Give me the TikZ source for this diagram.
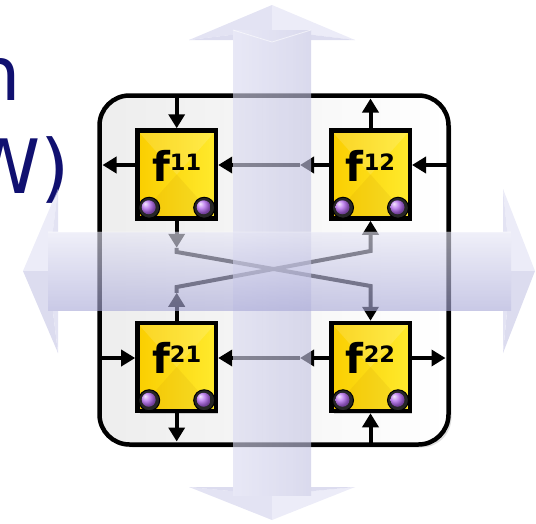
\documentclass[tikz,border=0pt]{standalone}
\usepackage{fontspec}
\setmainfont{DejaVu Sans}
\usetikzlibrary{arrows.meta,shadows}

\definecolor{navytext}{RGB}{16,16,112}
\definecolor{goldL}{RGB}{250,206,0}
\definecolor{goldR}{RGB}{255,234,45}
\definecolor{plum}{RGB}{175,100,235}
\definecolor{vshL}{RGB}{218,218,241}
\definecolor{vshM}{RGB}{168,168,215}
\definecolor{vshR}{RGB}{195,195,226}
\definecolor{hshT}{RGB}{230,230,245}
\definecolor{hshB}{RGB}{168,168,215}
\definecolor{headA}{RGB}{210,210,236}
\definecolor{headB}{RGB}{224,224,243}
\definecolor{headC}{RGB}{198,198,229}

\tikzset{
  fbox/.style={draw=black, line width=4.5pt, minimum width=78.5pt, minimum height=88pt,
    inner sep=0pt, left color=goldL, right color=goldR,
    drop shadow={opacity=0.35, shadow xshift=2.5pt, shadow yshift=-2.5pt},
    path picture={
      \fill[white, opacity=0.14] (path picture bounding box.north west) --
        (path picture bounding box.north east) -- (path picture bounding box.center) -- cycle;
      \fill[orange!60!black, opacity=0.07] (path picture bounding box.south west) --
        (path picture bounding box.south east) -- (path picture bounding box.center) -- cycle;
    }},
  flabel/.style={inner sep=0pt, anchor=base, font=\bfseries\fontsize{41}{41}\selectfont},
  knob/.style={circle, minimum size=21pt, inner sep=0pt, fill=black!85, draw=black, line width=1pt,
    path picture={\shade[ball color=plum] ([xshift=-0.5pt,yshift=0.5pt]path picture bounding box.center) circle (7pt);}},
  link/.style={line width=4pt, -{Triangle[length=14pt,width=16pt]}},
  bigtext/.style={inner sep=0pt, text=navytext, font=\fontsize{75}{75}\selectfont},
}

\newcommand{\lbl}[1]{f\raisebox{11pt}{\fontsize{22.5}{22.5}\selectfont #1}}

\begin{document}
\begin{tikzpicture}[x=1pt,y=-1pt]
\useasboundingbox (0,0) rectangle (536,523);
\clip (0,0) rectangle (536,523);

% partly visible title text
\node[bigtext, anchor=base east] (ttl1) at (21,100) {n};
\node[bigtext, anchor=base east] (ttl2) at (70,193) {W)};

% frame around the four cells
\node[draw=black, line width=4.5pt, rounded corners=30pt, minimum width=349pt, minimum height=349pt,
      inner sep=0pt, left color=black!7, right color=white,
      drop shadow={opacity=0.25, shadow xshift=3pt, shadow yshift=-3pt}] (frame) at (274,270) {};

% cells
\node[fbox] (f11) at (176.7,174.5) {};
\node[fbox] (f12) at (370.5,174.5) {};
\node[fbox] (f21) at (176.7,367) {};
\node[fbox] (f22) at (370.5,367) {};

\node[flabel] (l11) at (176.7,181) {\lbl{11}};
\node[flabel] (l12) at (370.5,181) {\lbl{12}};
\node[flabel] (l21) at (176.7,373.5) {\lbl{21}};
\node[flabel] (l22) at (370.5,373.5) {\lbl{22}};

\foreach \c in {11,12,21,22}{
  \node[knob] (k\c a) at ([shift={(14,-13)}]f\c.south west) {};
  \node[knob] (k\c b) at ([shift={(-14,-13)}]f\c.south east) {};
}

% reference lines and frame positions
\coordinate (row1) at (0,165);
\coordinate (row2) at (0,358);
\coordinate (ftopc) at (0,95.5);
\coordinate (ftopi) at (0,98.5);
\coordinate (fbotc) at (0,444.5);
\coordinate (fboti) at (0,441.5);
\coordinate (flftc) at (99.5,0);
\coordinate (flfti) at (102.5,0);
\coordinate (frgtc) at (448.5,0);
\coordinate (frgti) at (445.5,0);
\coordinate (xa) at (0,252);
\coordinate (xb) at (0,286);
\coordinate (xc) at (0,287);
\coordinate (xd) at (0,251);

% f11
\draw[link] (f11.north |- ftopc) -- (f11.north);
\draw[link] (row1 -| f11.west) -- (row1 -| flfti);
% f12
\draw[link] (f12.north) -- (f12.north |- ftopi);
\draw[link] (row1 -| frgtc) -- (row1 -| f12.east);
\draw[link] (row1 -| f12.west) -- ++(-29,0) coordinate (m1);
\draw[link] (m1) -- (row1 -| f11.east);
% f21
\draw[link] (row2 -| flftc) -- (row2 -| f21.west);
\draw[link] (f21.south) -- (f21.south |- fboti);
% f22
\draw[link] (row2 -| f22.east) -- (row2 -| frgti);
\draw[link] (f22.south |- fbotc) -- (f22.south);
\draw[link] (row2 -| f22.west) -- ++(-29,0) coordinate (m2);
\draw[link] (m2) -- (row2 -| f21.east);

% crossing links between the rows
\draw[link] (f11.south) -- ++(0,27) coordinate (c1);
\draw[link] (c1) -- (c1 |- xa) -- (f22.north |- xb) -- (f22.north);
\draw[link] (f21.north) -- ++(0,-28) coordinate (c2);
\draw[link] (c2) -- (c2 |- xc) -- (f12.south |- xd) -- (f12.south);

% translucent vertical double arrow
\begin{scope}[transparency group, opacity=0.62]
  \fill[headA] (189,40) -- (272,5) -- (272,30) -- cycle;
  \fill[headB] (355,40) -- (272,5) -- (272,30) -- cycle;
  \fill[headC] (189,40) -- (272,30) -- (355,40) -- cycle;
  \fill[headA] (189,487) -- (272,520) -- (272,495) -- cycle;
  \fill[headB] (355,487) -- (272,520) -- (272,495) -- cycle;
  \fill[headC] (189,487) -- (272,495) -- (355,487) -- cycle;
  \shade[left color=vshL, middle color=vshM, right color=vshR] (233,30) rectangle (311,495);
  \draw[white, line width=0.8pt, opacity=0.6] (233,30) -- (272,42) -- (311,30);
\end{scope}

% translucent horizontal double arrow
\begin{scope}[transparency group, opacity=0.62]
  \fill[headB] (58,189) -- (23,271) -- (48,271) -- cycle;
  \fill[headC] (58,353) -- (23,271) -- (48,271) -- cycle;
  \fill[headA] (58,189) -- (48,271) -- (58,353) -- cycle;
  \fill[headB] (503,189) -- (535,271) -- (511,271) -- cycle;
  \fill[headC] (503,353) -- (535,271) -- (511,271) -- cycle;
  \fill[headA] (503,189) -- (511,271) -- (503,353) -- cycle;
  \shade[top color=hshT, bottom color=hshB] (48,232) rectangle (511,310);
  \draw[white, line width=0.8pt, opacity=0.6] (48,232) -- (511,232);
\end{scope}
\end{tikzpicture}
\end{document}
